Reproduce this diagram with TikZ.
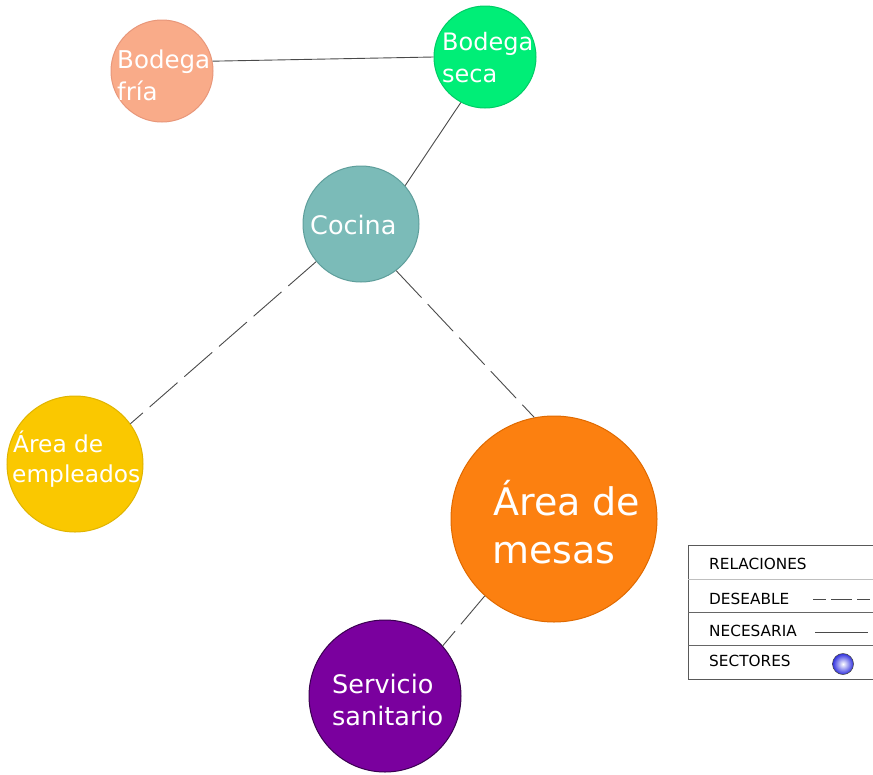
\documentclass[tikz,border=0pt]{standalone}
\usepackage{fontspec}
\setmainfont{DejaVu Sans}
\usetikzlibrary{shadings}
\definecolor{cFria}{HTML}{F9AB89}
\definecolor{cFriaB}{HTML}{E8977A}
\definecolor{cSeca}{HTML}{00EE77}
\definecolor{cSecaB}{HTML}{00CC66}
\definecolor{cCocina}{HTML}{7BBBB8}
\definecolor{cCocinaB}{HTML}{5E9E9B}
\definecolor{cEmp}{HTML}{FAC800}
\definecolor{cEmpB}{HTML}{E0B400}
\definecolor{cMesas}{HTML}{FC8010}
\definecolor{cMesasB}{HTML}{E06A00}
\definecolor{cServ}{HTML}{7A009E}
\definecolor{cServB}{HTML}{3A0050}
\definecolor{cLine}{HTML}{4A4A4A}
\definecolor{cBall}{HTML}{3030E0}
\begin{document}
\begin{tikzpicture}[x=1pt,y=-1pt,
  sector/.style={circle,inner sep=0pt,line width=1pt},
  lbl/.style={anchor=base west,inner sep=0pt,text=white},
  need/.style={draw=cLine,line width=0.9pt},
  want/.style={draw=cLine,line width=0.9pt,dash pattern=on 37pt off 9pt},
  legtxt/.style={anchor=base west,inner sep=0pt,font=\fontsize{15.3}{18}\selectfont},
]
\useasboundingbox (0,0) rectangle (873,774);
% sectors
\node[sector,fill=cFria,draw=cFriaB,minimum size=102pt] (fria) at (162,71) {};
\node[sector,fill=cSeca,draw=cSecaB,minimum size=102pt] (seca) at (485,57) {};
\node[sector,fill=cCocina,draw=cCocinaB,minimum size=116pt] (cocina) at (361,224) {};
\node[sector,fill=cEmp,draw=cEmpB,minimum size=136pt] (emp) at (75,464) {};
\node[sector,fill=cMesas,draw=cMesasB,minimum size=206pt] (mesas) at (554,519) {};
\node[sector,fill=cServ,draw=cServB,minimum size=152pt] (serv) at (385,696) {};
% labels
\node[lbl,font=\fontsize{24.5}{30}\selectfont] (friaA) at (117,68) {Bodega};
\node[lbl,font=\fontsize{24.5}{30}\selectfont] (friaB) at (117,100) {fría};
\node[lbl,font=\fontsize{24}{30}\selectfont] (secaA) at (442,50) {Bodega};
\node[lbl,font=\fontsize{24}{30}\selectfont] (secaB) at (442,82) {seca};
\node[lbl,font=\fontsize{25.5}{30}\selectfont] (cocinaA) at (310,234) {Cocina};
\node[lbl,font=\fontsize{23.3}{30}\selectfont] (empA) at (13,452) {Área de};
\node[lbl,font=\fontsize{23.3}{30}\selectfont] (empB) at (12,482) {empleados};
\node[lbl,font=\fontsize{38}{48}\selectfont] (mesasA) at (493,515) {Área de};
\node[lbl,font=\fontsize{38}{48}\selectfont] (mesasB) at (492,563) {mesas};
\node[lbl,font=\fontsize{25.5}{32}\selectfont] (servA) at (332,693) {Servicio};
\node[lbl,font=\fontsize{25.5}{32}\selectfont] (servB) at (332,725) {sanitario};
% relations
\draw[need] (fria.11) -- (seca.180);
\draw[need] (seca.242) -- (cocina.41);
\draw[want] (cocina.220) -- (emp.36);
\draw[want] (cocina.307) -- (mesas.101);
\draw[want] (mesas.228) -- (serv.41);
% legend
\coordinate (lgTL) at (688,545);
\coordinate (lgTR) at (873,545);
\coordinate (lgBL) at (688,679);
\coordinate (lgBR) at (873,679);
\coordinate (s1L) at (688,579); \coordinate (s1R) at (873,579);
\coordinate (s2L) at (688,612); \coordinate (s2R) at (873,612);
\coordinate (s3L) at (688,645); \coordinate (s3R) at (873,645);
\draw[draw=black!65,line width=1pt] (lgTR) -- (lgTL) -- (lgBL) -- (lgBR);
\draw[draw=black!25,line width=1pt] (s1L) -- (s1R);
\draw[draw=black!60,line width=1pt] (s2L) -- (s2R);
\draw[draw=black!60,line width=1pt] (s3L) -- (s3R);
\node[legtxt] (lgRel) at (709,569) {RELACIONES};
\node[legtxt] (lgDes) at (709,604) {DESEABLE};
\node[legtxt] (lgNec) at (709,636) {NECESARIA};
\node[legtxt] (lgSec) at (709,666) {SECTORES};
\coordinate (dA) at (813,599); \coordinate (dB) at (873,599);
\draw[draw=cLine,line width=0.9pt,dash pattern=on 13pt off 5pt on 21pt off 5pt] (dA) -- (dB);
\coordinate (nA) at (815,632); \coordinate (nB) at (868,632);
\draw[need] (nA) -- (nB);
\node[circle,inner sep=0pt,minimum size=21pt,draw=black!70,line width=0.6pt,inner color=white,outer color=cBall,shading=radial,shading angle=0] (lgBall) at (843,664) {};
\end{tikzpicture}
\end{document}
